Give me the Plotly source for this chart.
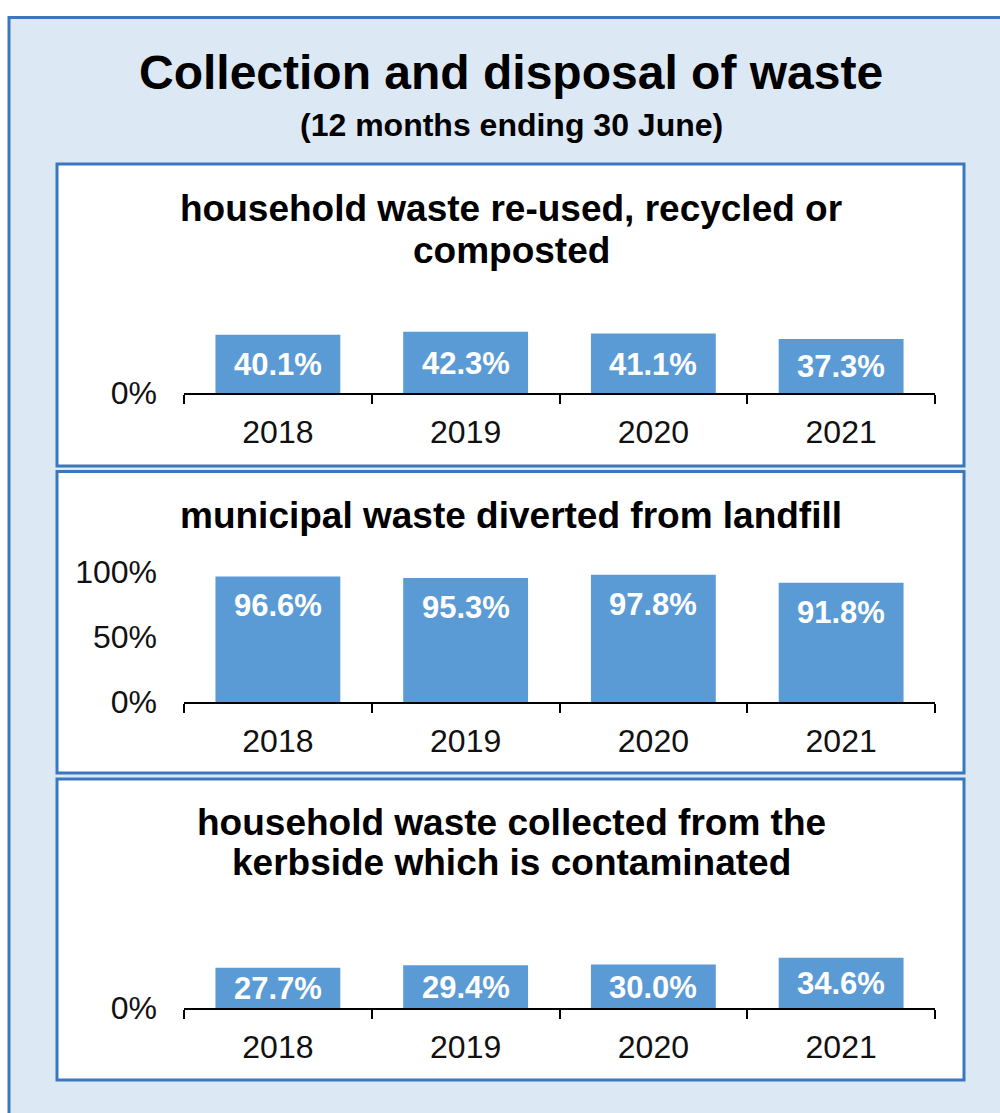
import plotly.graph_objects as go

years = ["2018", "2019", "2020", "2021"]
recycled = [40.1, 42.3, 41.1, 37.3]
diverted = [96.6, 95.3, 97.8, 91.8]
contaminated = [27.7, 29.4, 30.0, 34.6]

main_title = "Collection and disposal of waste"
sub_title = "(12 months ending 30 June)"
panel_titles = [
    ["household waste re-used, recycled or", "composted"],
    ["municipal waste diverted from landfill"],
    ["household waste collected from the", "kerbside which is contaminated"],
]

W, H = 1000, 1113
FONT = "Liberation Sans, Arial, sans-serif"
BAR = "#5b9bd5"
BORDER = "#3a78be"
BG = "#dde8f5"


def px(x):
    return x / W


def py(y):
    return 1 - y / H


fig = go.Figure()

series = [recycled, diverted, contaminated]
# (zero line pixel, top pixel, range top)
ydoms = [(393, 306, 60), (702, 572, 100), (1008, 921, 60)]

for i, vals in enumerate(series):
    n = "" if i == 0 else str(i + 1)
    fig.add_trace(go.Bar(
        x=years, y=vals, width=0.665, marker=dict(color=BAR, line=dict(width=0)),
        xaxis="x" + n, yaxis="y" + n, hoverinfo="skip", showlegend=False,
    ))
    bot, top, rtop = ydoms[i]
    fig.layout["xaxis" + n] = dict(
        domain=[px(184), px(935)], anchor="y" + n, type="category",
        range=[-0.5, 3.5], showline=True, linecolor="#000", linewidth=2,
        ticks="outside", ticklen=9, tickwidth=1.5, tickcolor="#000",
        tickson="boundaries", showgrid=False, zeroline=False,
        tickfont=dict(family=FONT, size=32, color="#111"),
        ticklabelstandoff=10, fixedrange=True, automargin=False,
    )
    if i == 1:
        tv, tt = [0, 50, 100], ["0%", "50%", "100%"]
    else:
        tv, tt = [0], ["0%"]
    fig.layout["yaxis" + n] = dict(
        domain=[py(bot), py(top)], anchor="x" + n, range=[0, rtop],
        showgrid=False, zeroline=False, showline=False, ticks="",
        tickvals=tv, ticktext=tt,
        tickfont=dict(family=FONT, size=32, color="#111"),
        ticklabelstandoff=26, fixedrange=True, automargin=False,
    )
    for j, v in enumerate(vals):
        if i == 1:
            ann = dict(y=v, yanchor="top", yshift=-10)
        else:
            ann = dict(y=v / 2, yanchor="middle", yshift=-1)
        fig.add_annotation(
            x=j, xref="x" + n, yref="y" + n, text=f"<b>{v:.1f}%</b>",
            showarrow=False, xanchor="center",
            font=dict(family=FONT, size=31, color="white"), **ann,
        )

# outer light-blue frame (runs past the right and bottom edges)
fig.add_shape(type="rect", xref="paper", yref="paper",
              x0=px(9), x1=px(1010), y0=py(1125), y1=py(17.5),
              fillcolor=BG, line=dict(color=BORDER, width=3), layer="below")
# white panels
for (t, b) in [(164, 466), (471.5, 773), (779, 1080)]:
    fig.add_shape(type="rect", xref="paper", yref="paper",
                  x0=px(57), x1=px(964), y0=py(b), y1=py(t),
                  fillcolor="white", line=dict(color=BORDER, width=3), layer="below")

fig.add_annotation(xref="paper", yref="paper", x=px(511), y=py(72), text="<b>" + main_title + "</b>",
                   showarrow=False, font=dict(family=FONT, size=48, color="#000"),
                   xanchor="center", yanchor="middle")
fig.add_annotation(xref="paper", yref="paper", x=px(511), y=py(125), text="<b>" + sub_title + "</b>",
                   showarrow=False, font=dict(family=FONT, size=32, color="#000"),
                   xanchor="center", yanchor="middle")
line_y = [[208, 250], [515], [822, 862]]
for lines, ys in zip(panel_titles, line_y):
    for t, yc in zip(lines, ys):
        fig.add_annotation(xref="paper", yref="paper", x=px(511), y=py(yc), text="<b>" + t + "</b>",
                           showarrow=False, font=dict(family=FONT, size=37, color="#000"),
                           xanchor="center", yanchor="middle")

fig.update_layout(
    width=W, height=H, margin=dict(l=0, r=0, t=0, b=0, autoexpand=False),
    paper_bgcolor="white", plot_bgcolor="rgba(0,0,0,0)",
    bargap=0.3, showlegend=False,
)

fig.write_html("out.html", config={"displayModeBar": False},
               post_script="document.body.style.margin='0';")
